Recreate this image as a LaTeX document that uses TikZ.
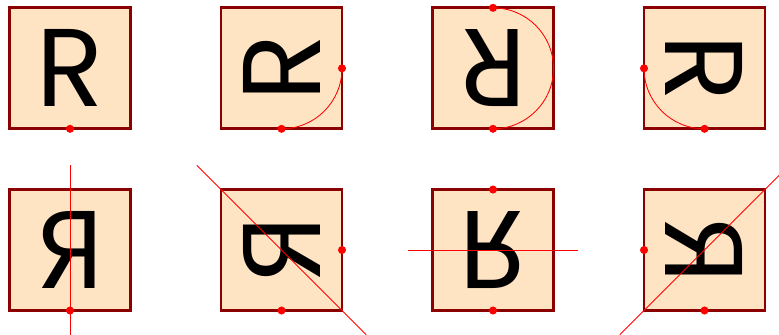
\documentclass[tikz,border=0pt]{standalone}
\usepackage{fontspec}
\usepackage{xcolor}
\usepackage{tikz}
\usetikzlibrary{positioning}
\newfontfamily\glyphfont{Poppins}
\definecolor{tilefill}{HTML}{FFE4C4}
\definecolor{tileedge}{HTML}{8B0000}

\begin{document}
\begin{tikzpicture}[
    tile/.style={draw=tileedge,fill=tilefill,line width=2pt,minimum size=3cm,outer sep=0pt,inner sep=0pt},
    glyph/.style={inner sep=0pt,font=\glyphfont\fontsize{78}{78}\selectfont},
    spot/.style={circle,fill=red,inner sep=0pt,minimum size=0.2cm},
    turn/.style={draw=red,line width=0.6pt},
    mirror/.style={draw=red,line width=0.6pt}]
  \useasboundingbox (0,0) rectangle (19.315,8.306);
  \clip (0,0) rectangle (19.315,8.306);
  % rotations
  \node[tile] (sq1) at (1.736,6.612) {};
  \node[tile,right=2.244cm of sq1] (sq2) {};
  \node[tile,right=2.244cm of sq2] (sq3) {};
  \node[tile,right=2.244cm of sq3] (sq4) {};
  \node[glyph] (g1) at (sq1) {R};
  \node[glyph,rotate=90] (g2) at (sq2) {R};
  \node[glyph,rotate=180] (g3) at (sq3) {R};
  \node[glyph,rotate=270] (g4) at (sq4) {R};
  \draw[turn] (sq2.south) arc[start angle=-90,end angle=0,radius=1.5cm];
  \draw[turn] (sq3.south) arc[start angle=-90,end angle=90,radius=1.5cm];
  \draw[turn] (sq4.south) arc[start angle=-90,end angle=-180,radius=1.5cm];
  \node[spot] (d1) at (sq1.south) {};
  \node[spot] (d2a) at (sq2.south) {};
  \node[spot] (d2b) at (sq2.east) {};
  \node[spot] (d3a) at (sq3.south) {};
  \node[spot] (d3b) at (sq3.north) {};
  \node[spot] (d4a) at (sq4.south) {};
  \node[spot] (d4b) at (sq4.west) {};
  % reflections
  \node[tile,below=1.505cm of sq1] (sq5) {};
  \node[tile,right=2.244cm of sq5] (sq6) {};
  \node[tile,right=2.244cm of sq6] (sq7) {};
  \node[tile,right=2.244cm of sq7] (sq8) {};
  \node[glyph,xscale=-1] (g5) at (sq5) {R};
  \node[glyph,cm={0,-1,-1,0,(0,0)}] (g6) at (sq6) {R};
  \node[glyph,yscale=-1] (g7) at (sq7) {R};
  \node[glyph,cm={0,1,1,0,(0,0)}] (g8) at (sq8) {R};
  \coordinate (a5) at ([yshift=2.1cm]sq5.center);
  \coordinate (b5) at ([yshift=-2.1cm]sq5.center);
  \coordinate (a6) at ([shift={(-2.1cm,2.1cm)}]sq6.center);
  \coordinate (b6) at ([shift={(2.1cm,-2.1cm)}]sq6.center);
  \coordinate (a7) at ([xshift=-2.1cm]sq7.center);
  \coordinate (b7) at ([xshift=2.1cm]sq7.center);
  \coordinate (a8) at ([shift={(-2.1cm,-2.1cm)}]sq8.center);
  \coordinate (b8) at ([shift={(2.1cm,2.1cm)}]sq8.center);
  \draw[mirror] (a5) -- (b5);
  \draw[mirror] (a6) -- (b6);
  \draw[mirror] (a7) -- (b7);
  \draw[mirror] (a8) -- (b8);
  \node[spot] (d5) at (sq5.south) {};
  \node[spot] (d6a) at (sq6.south) {};
  \node[spot] (d6b) at (sq6.east) {};
  \node[spot] (d7a) at (sq7.south) {};
  \node[spot] (d7b) at (sq7.north) {};
  \node[spot] (d8a) at (sq8.south) {};
  \node[spot] (d8b) at (sq8.west) {};
\end{tikzpicture}
\end{document}
